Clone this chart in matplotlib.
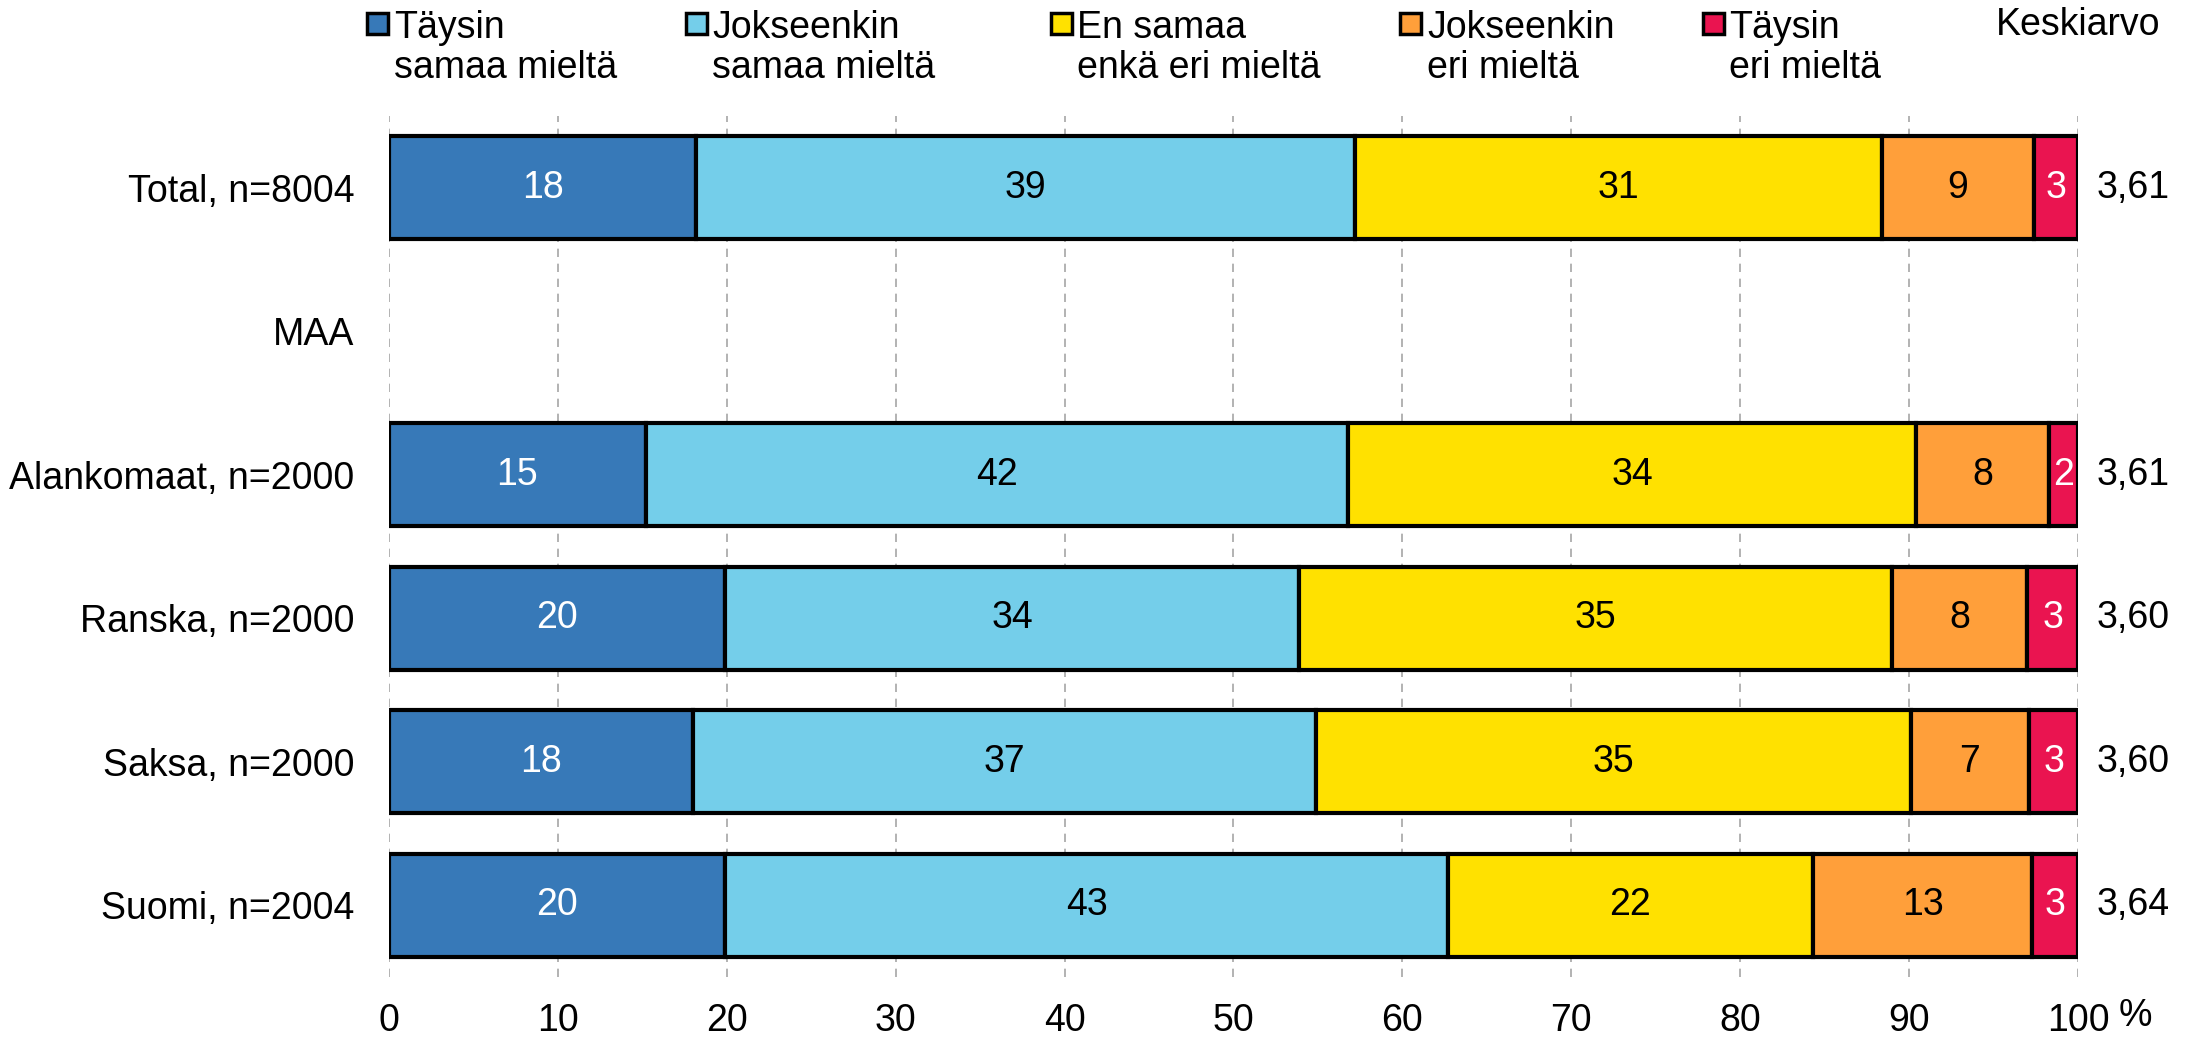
import matplotlib
matplotlib.use('Agg')
import matplotlib.pyplot as plt
from matplotlib.patches import Rectangle
from matplotlib.transforms import blended_transform_factory
import numpy as np

plt.rcParams['font.family'] = ['Liberation Sans', 'DejaVu Sans']

# rows, top to bottom ('MAA' is a heading row without a bar)
rows = ['Total, n=8004', 'MAA', 'Alankomaat, n=2000', 'Ranska, n=2000',
        'Saksa, n=2000', 'Suomi, n=2004']
means = ['3,61', '', '3,61', '3,60', '3,60', '3,64']

series = ['Täysin\nsamaa mieltä', 'Jokseenkin\nsamaa mieltä',
          'En samaa\nenkä eri mieltä', 'Jokseenkin\neri mieltä',
          'Täysin\neri mieltä']
colors = ['#3779B8', '#74CEEA', '#FFE100', '#FF9F3A', '#EA1450']
text_colors = ['white', 'black', 'black', 'black', 'white']

# percentages per series, one value per row (None for the heading row)
taysin_samaa = [18.2, None, 15.2, 19.9, 18.0, 19.9]
jokseenkin_samaa = [39.0, None, 41.6, 34.0, 36.9, 42.8]
en_samaa_eri = [31.2, None, 33.6, 35.1, 35.2, 21.6]
jokseenkin_eri = [9.0, None, 7.9, 8.0, 7.0, 13.0]
taysin_eri = [2.6, None, 1.7, 3.0, 2.9, 2.7]
values = [taysin_samaa, jokseenkin_samaa, en_samaa_eri, jokseenkin_eri, taysin_eri]

# legend anchor positions along the x axis (data units)
legend_x = [-0.66, 18.2, 39.8, 60.5, 78.4]

fig = plt.figure(figsize=(21.95, 10.38), dpi=100)
ax = fig.add_axes([0.1772, 0.0588, 0.7695, 0.8294])

y = np.arange(len(rows))
left = np.zeros(len(rows))
for vals, color, tcol in zip(values, colors, text_colors):
    for i, v in enumerate(vals):
        if v is None:
            continue
        ax.barh(y[i], v, left=left[i], height=0.72, color=color,
                edgecolor='black', linewidth=3, zorder=3)
        ax.text(left[i] + v / 2, y[i], f'{round(v)}', ha='center', va='center',
                fontsize=27, color=tcol, zorder=4)
        left[i] += v

# mean values on the right
for i, m in enumerate(means):
    ax.text(101.1, y[i], m, ha='left', va='center', fontsize=27, clip_on=False)

ax.set_xlim(0, 100)
ax.set_ylim(5.5, -0.5)
ax.set_xticks(np.arange(0, 101, 10))
ax.set_yticks(y)
ax.set_yticklabels(rows)
ax.tick_params(axis='x', length=0, pad=19, labelsize=27)
ax.tick_params(axis='y', length=0, pad=25, labelsize=27)
ax.xaxis.grid(True, linestyle=(0, (5, 4)), color='#A6A6A6', linewidth=1.2, zorder=0)
for s in ax.spines.values():
    s.set_visible(False)

ax.text(103.4, -0.045, '%', transform=blended_transform_factory(ax.transData, ax.transAxes),
        ha='center', va='center', fontsize=27)

# legend drawn by hand above the plot
trans = blended_transform_factory(ax.transData, fig.transFigure)
for lx, name, color in zip(legend_x, series, colors):
    ax.add_patch(Rectangle((lx - 0.62, 1 - 34 / 1038), 1.24, 21 / 1038,
                           transform=trans, facecolor=color, edgecolor='black',
                           linewidth=2.5, clip_on=False))
    ax.text(lx + 0.95, 1 - 78 / 1038, name, transform=trans, ha='left', va='baseline',
            fontsize=27, linespacing=1.15, clip_on=False)
ax.text(100, 1 - 35 / 1038, 'Keskiarvo', transform=trans, ha='center', va='baseline',
        fontsize=27, clip_on=False)

fig.savefig('out.png', dpi=100)
